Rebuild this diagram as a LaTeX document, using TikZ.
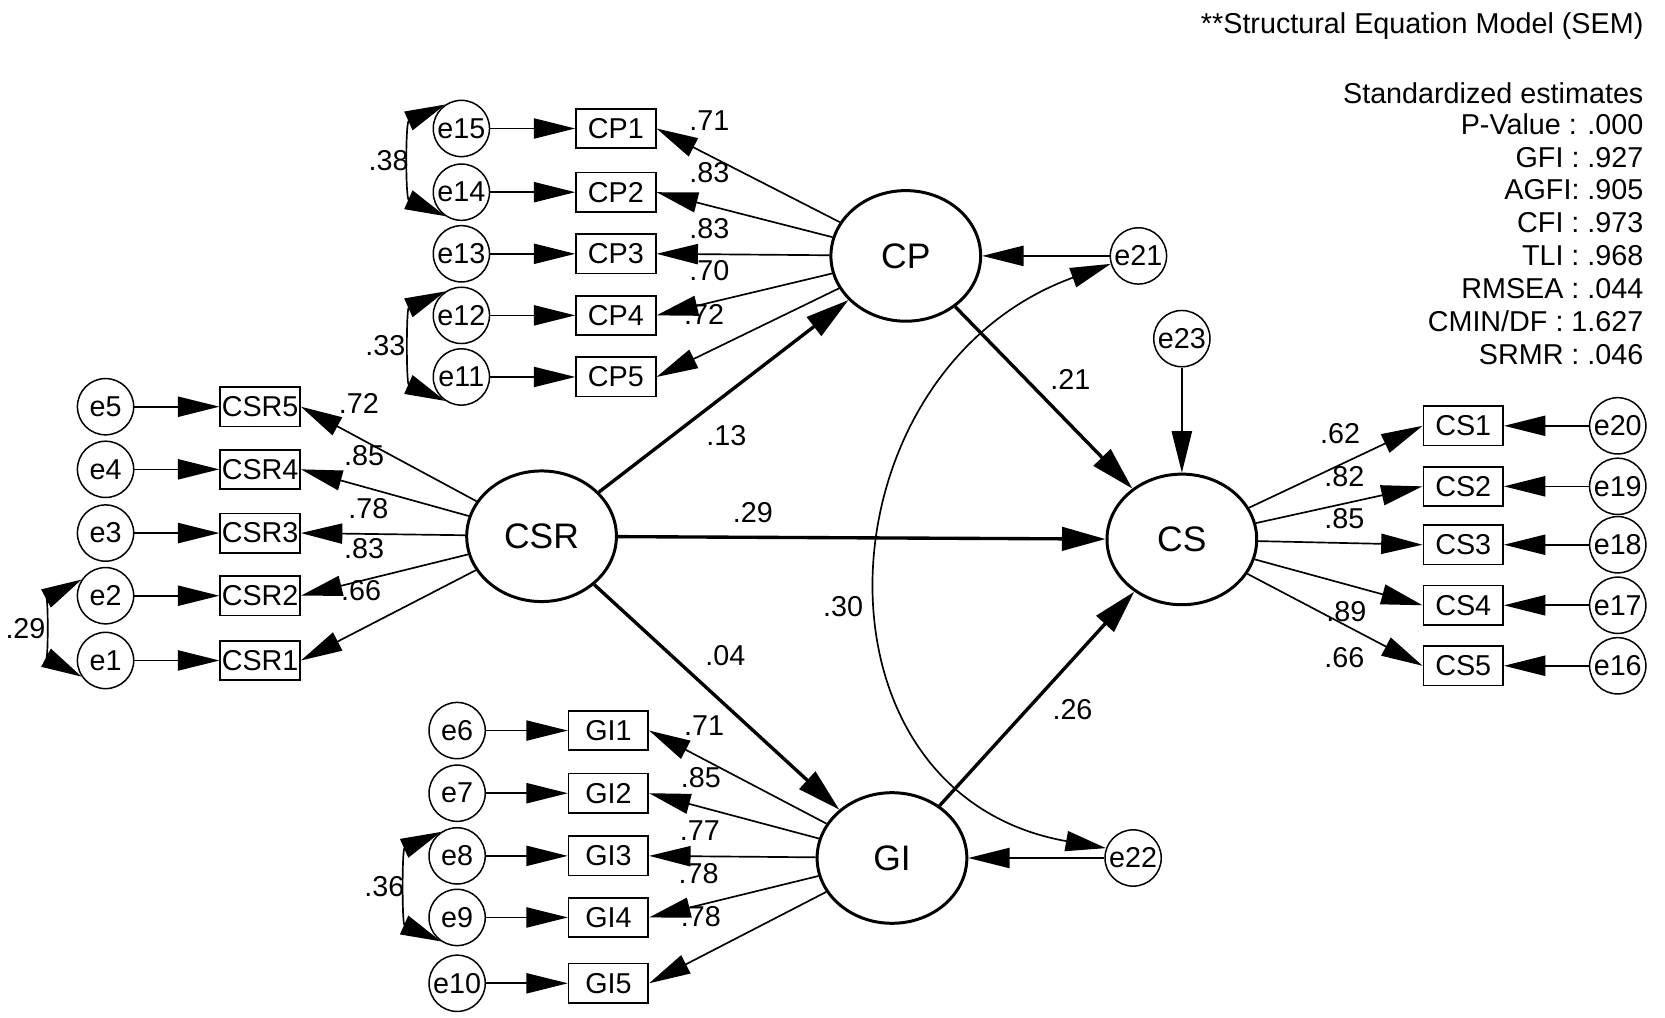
\documentclass[tikz,border=0pt]{standalone}
\usepackage{fontspec}
\setmainfont{Liberation Sans}
\usetikzlibrary{positioning, shapes.geometric, arrows.meta}

\begin{document}
\begin{tikzpicture}[x=0.2mm, y=0.2mm,
      node distance=16mm,
      font=\fontsize{15.4}{17}\selectfont,
      lat/.style={ellipse, draw, line width=1.6pt, minimum width=28.2mm, minimum height=24.6mm, inner sep=0pt, font=\fontsize{19}{22}\selectfont},
      obs/.style={rectangle, draw, line width=0.9pt, minimum width=15mm, minimum height=7.4mm, inner sep=0.3mm},
      err/.style={circle, draw, line width=0.8pt, minimum size=10.6mm, inner sep=0pt},
      val/.style={inner sep=0pt},
      idx/.style={anchor=base east, inner sep=0pt},
      ld/.style={line width=0.9pt, -{Triangle[length=7.8mm, width=3.8mm]}},
      reg/.style={line width=1.8pt, -{Triangle[length=8.2mm, width=4.4mm]}},
      cov/.style={line width=0.9pt, {Triangle[length=7.6mm, width=3.8mm]}-{Triangle[length=7.6mm, width=3.8mm]}}]
    \useasboundingbox (0,0) rectangle (1568,-958);

    % latent variables
    \node[lat] (csr) at (510,-505) {CSR};
    \node[lat] (cp) at (853,-241) {CP};
    \node[lat] (gi) at (840,-808) {GI};
    \node[lat] (cs) at (1113,-508) {CS};

    % CSR indicators
    \node[obs] (csr5) at (245,-383) {CSR5};
    \node[obs] (csr4) at (245,-442) {CSR4};
    \node[obs] (csr3) at (245,-502) {CSR3};
    \node[obs] (csr2) at (245,-561) {CSR2};
    \node[obs] (csr1) at (245,-622) {CSR1};
    \node[err] (e5) [left=of csr5] {e5};
    \node[err] (e4) [left=of csr4] {e4};
    \node[err] (e3) [left=of csr3] {e3};
    \node[err] (e2) [left=of csr2] {e2};
    \node[err] (e1) [left=of csr1] {e1};

    % CP indicators
    \node[obs] (cp1) at (580,-121) {CP1};
    \node[obs] (cp2) at (580,-181) {CP2};
    \node[obs] (cp3) at (580,-239) {CP3};
    \node[obs] (cp4) at (580,-297) {CP4};
    \node[obs] (cp5) at (580,-355) {CP5};
    \node[err] (e15) [left=of cp1] {e15};
    \node[err] (e14) [left=of cp2] {e14};
    \node[err] (e13) [left=of cp3] {e13};
    \node[err] (e12) [left=of cp4] {e12};
    \node[err] (e11) [left=of cp5] {e11};

    % GI indicators
    \node[obs] (gi1) at (573,-688) {GI1};
    \node[obs] (gi2) at (573,-747) {GI2};
    \node[obs] (gi3) at (573,-806) {GI3};
    \node[obs] (gi4) at (573,-864) {GI4};
    \node[obs] (gi5) at (573,-926) {GI5};
    \node[err] (e6) [left=15.4mm of gi1] {e6};
    \node[err] (e7) [left=15.4mm of gi2] {e7};
    \node[err] (e8) [left=15.4mm of gi3] {e8};
    \node[err] (e9) [left=15.4mm of gi4] {e9};
    \node[err] (e10) [left=15.4mm of gi5] {e10};

    % CS indicators
    \node[obs] (cs1) at (1378,-401) {CS1};
    \node[obs] (cs2) at (1378,-458) {CS2};
    \node[obs] (cs3) at (1378,-513) {CS3};
    \node[obs] (cs4) at (1378,-570) {CS4};
    \node[obs] (cs5) at (1378,-627) {CS5};
    \node[err] (e20) [right=of cs1] {e20};
    \node[err] (e19) [right=of cs2] {e19};
    \node[err] (e18) [right=of cs3] {e18};
    \node[err] (e17) [right=of cs4] {e17};
    \node[err] (e16) [right=of cs5] {e16};

    % disturbances
    \node[err] (e21) [right=24mm of cp] {e21};
    \node[err] (e22) [right=25.6mm of gi] {e22};
    \node[err] (e23) [above=19.8mm of cs] {e23};

    % error -> indicator
    \draw[ld] (e5) -- (csr5);
    \draw[ld] (e4) -- (csr4);
    \draw[ld] (e3) -- (csr3);
    \draw[ld] (e2) -- (csr2);
    \draw[ld] (e1) -- (csr1);
    \draw[ld] (e15) -- (cp1);
    \draw[ld] (e14) -- (cp2);
    \draw[ld] (e13) -- (cp3);
    \draw[ld] (e12) -- (cp4);
    \draw[ld] (e11) -- (cp5);
    \draw[ld] (e6) -- (gi1);
    \draw[ld] (e7) -- (gi2);
    \draw[ld] (e8) -- (gi3);
    \draw[ld] (e9) -- (gi4);
    \draw[ld] (e10) -- (gi5);
    \draw[ld] (e20) -- (cs1);
    \draw[ld] (e19) -- (cs2);
    \draw[ld] (e18) -- (cs3);
    \draw[ld] (e17) -- (cs4);
    \draw[ld] (e16) -- (cs5);

    % loadings
    \draw[ld] (csr) -- (csr5.east);
    \draw[ld] (csr) -- (csr4.east);
    \draw[ld] (csr) -- (csr3.east);
    \draw[ld] (csr) -- (csr2.east);
    \draw[ld] (csr) -- (csr1.east);
    \draw[ld] (cp) -- (cp1.east);
    \draw[ld] (cp) -- (cp2.east);
    \draw[ld] (cp) -- (cp3.east);
    \draw[ld] (cp) -- (cp4.east);
    \draw[ld] (cp) -- (cp5.east);
    \draw[ld] (gi) -- (gi1.east);
    \draw[ld] (gi) -- (gi2.east);
    \draw[ld] (gi) -- (gi3.east);
    \draw[ld] (gi) -- (gi4.east);
    \draw[ld] (gi) -- (gi5.east);
    \draw[ld] (cs) -- (cs1.west);
    \draw[ld] (cs) -- (cs2.west);
    \draw[ld] (cs) -- (cs3.west);
    \draw[ld] (cs) -- (cs4.west);
    \draw[ld] (cs) -- (cs5.west);
    \node[val] (l-csr5) at (338,-380) {.72};
    \node[val] (l-csr4) at (343,-429) {.85};
    \node[val] (l-csr3) at (347,-479) {.78};
    \node[val] (l-csr2) at (343,-517) {.83};
    \node[val] (l-csr1) at (340,-556) {.66};
    \node[val] (l-cp1) at (668,-114) {.71};
    \node[val] (l-cp2) at (668,-163) {.83};
    \node[val] (l-cp3) at (668,-215) {.83};
    \node[val] (l-cp4) at (668,-255) {.70};
    \node[val] (l-cp5) at (663,-296) {.72};
    \node[val] (l-gi1) at (663,-683) {.71};
    \node[val] (l-gi2) at (660,-732) {.85};
    \node[val] (l-gi3) at (659,-782) {.77};
    \node[val] (l-gi4) at (658,-823) {.78};
    \node[val] (l-gi5) at (660,-863) {.78};
    \node[val] (l-cs1) at (1262,-408) {.62};
    \node[val] (l-cs2) at (1266,-449) {.82};
    \node[val] (l-cs3) at (1266,-488) {.85};
    \node[val] (l-cs4) at (1268,-576) {.89};
    \node[val] (l-cs5) at (1266,-619) {.66};

    % structural paths
    \draw[reg] (csr) -- (cp) node[val] (b1) at (684,-410) {.13};
    \draw[reg] (csr) -- (cs) node[val] (b2) at (709,-483) {.29};
    \draw[reg] (csr) -- (gi) node[val] (b3) at (683,-617) {.04};
    \draw[reg] (cp) -- (cs) node[val] (b4) at (1008,-357) {.21};
    \draw[reg] (gi) -- (cs) node[val] (b5) at (1010,-668) {.26};
    \draw[ld] (e21) -- (cp);
    \draw[ld] (e22) -- (gi);
    \draw[ld] (e23) -- (cs);

    % covariances
    \draw[cov] (e15.124) to[out=204, in=156, looseness=1.0] (e14.236);
    \draw[cov] (e12.124) to[out=204, in=156, looseness=1.0] (e11.236);
    \draw[cov] (e2.146) to[out=208, in=152, looseness=1.0] (e1.214);
    \draw[cov] (e8.124) to[out=204, in=156, looseness=1.0] (e9.236);
    \draw[cov] (e21.196) to[out=200, in=170, looseness=1.37] (e22.160);
    \node[val] (c1) at (366,-151) {.38};
    \node[val] (c2) at (363,-325) {.33};
    \node[val] (c3) at (24,-592) {.29};
    \node[val] (c4) at (362,-835) {.36};
    \node[val] (c5) at (794,-571) {.30};

    %% fit indices:
    \node[idx] (title) at (1548,-32) {**Structural Equation Model (SEM)};
    \node[idx] (f0) at (1548,-97) {Standardized estimates};
    \node[idx] (f1) at (1548,-127) {P-Value : .000};
    \node[idx] (f2) at (1548,-158) {GFI : .927};
    \node[idx] (f3) at (1548,-188) {AGFI: .905};
    \node[idx] (f4) at (1548,-219) {CFI : .973};
    \node[idx] (f5) at (1548,-250) {TLI : .968};
    \node[idx] (f6) at (1548,-281) {RMSEA : .044};
    \node[idx] (f7) at (1548,-312) {CMIN/DF : 1.627};
    \node[idx] (f8) at (1548,-343) {SRMR : .046};
\end{tikzpicture}
\end{document}
